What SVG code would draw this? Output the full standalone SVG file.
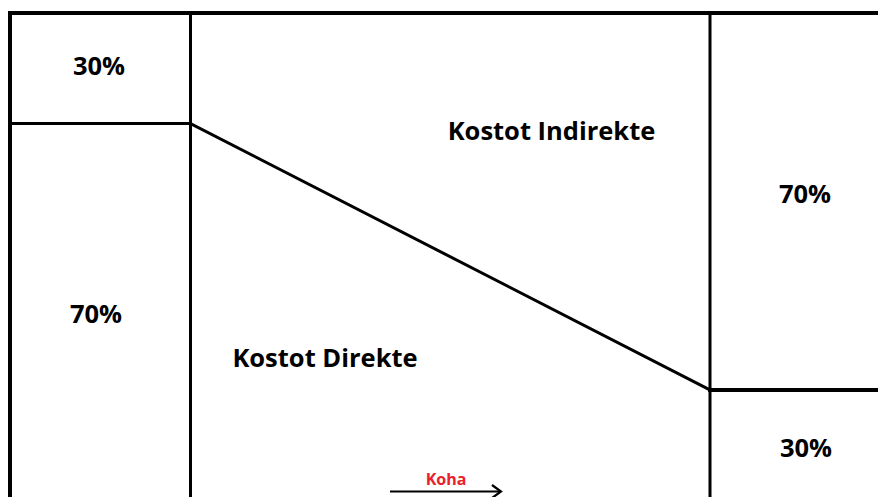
<svg xmlns="http://www.w3.org/2000/svg" width="878" height="497" viewBox="0 0 878 497">
<defs>
<style>
.ln{stroke:#000;stroke-width:3;fill:none;stroke-linecap:square}
.lb{font-family:"Open Sans","Noto Sans","Liberation Sans",sans-serif;font-weight:bold;font-size:25.5px;fill:#000;text-anchor:middle}
.kh{font-family:"Open Sans","Noto Sans","Liberation Sans",sans-serif;font-weight:bold;font-size:16px;fill:#e8212a;text-anchor:middle}
</style>
<marker id="ah" viewBox="0 0 16 16" refX="14" refY="8" markerWidth="16" markerHeight="16" markerUnits="userSpaceOnUse" orient="auto">
<path d="M5,1.5 L14,8 L5,14.5" fill="none" stroke="#000" stroke-width="2.2"/>
</marker>
</defs>
<rect width="878" height="497" fill="#fff"/>
<g id="connectors">
<path class="ln" d="M10,497 V13 H878" style="stroke-width:4"/>
<line class="ln" x1="190.5" y1="13" x2="190.5" y2="497"/>
<line class="ln" x1="710" y1="13" x2="710" y2="497"/>
<line class="ln" x1="10" y1="123.5" x2="190.5" y2="123.5"/>
<line class="ln" x1="190.5" y1="123.5" x2="710" y2="390"/>
<line class="ln" x1="710" y1="390" x2="878" y2="390" style="stroke-width:4"/>
<line x1="390" y1="491.5" x2="501" y2="491.5" stroke="#000" stroke-width="2" marker-end="url(#ah)"/>
</g>
<g id="n-30-left"><text class="lb" x="99" y="75">30%</text></g>
<g id="n-70-left"><text class="lb" x="96" y="323">70%</text></g>
<g id="n-indirekte"><text class="lb" x="551.5" y="140">Kostot Indirekte</text></g>
<g id="n-direkte"><text class="lb" x="325" y="367">Kostot Direkte</text></g>
<g id="n-70-right"><text class="lb" x="805" y="203">70%</text></g>
<g id="n-30-right"><text class="lb" x="806" y="457">30%</text></g>
<g id="n-koha"><text class="kh" x="446" y="485">Koha</text></g>
</svg>
